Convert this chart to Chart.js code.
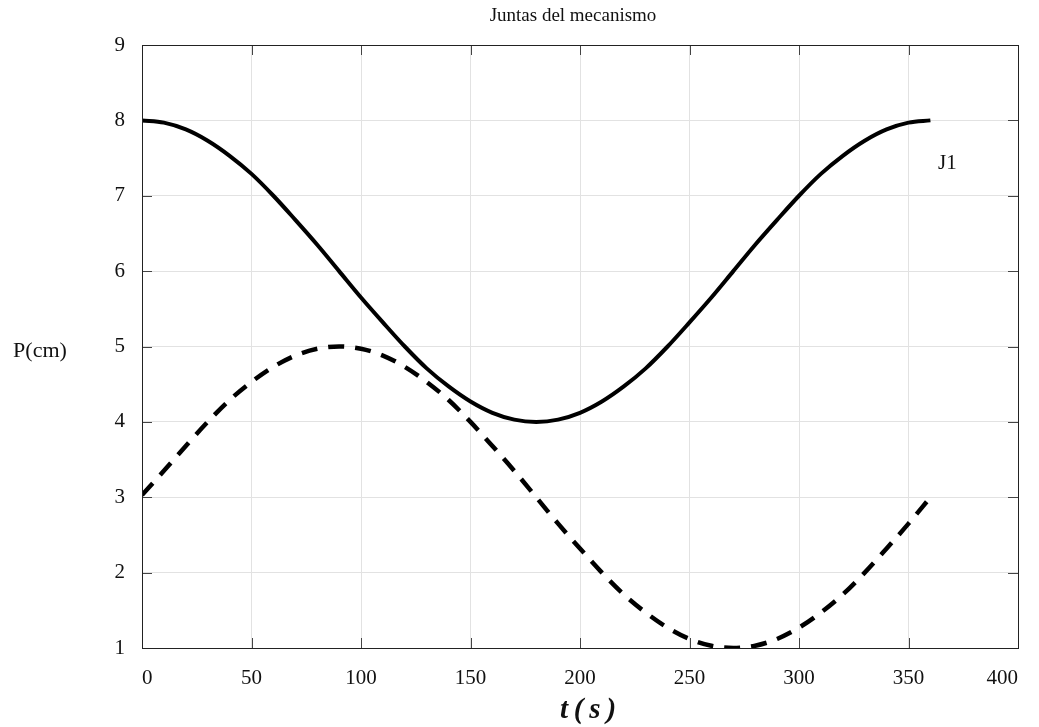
<!DOCTYPE html>
<html>
<head>
<meta charset="utf-8">
<script src="https://cdn.jsdelivr.net/npm/chart.js@4.4.0/dist/chart.umd.min.js"></script>
<style>
  body { margin: 0; background: #fff; }
</style>
</head>
<body>
<canvas id="line-chart" width="1039" height="727"></canvas>
<script>
// t en grados (eje x)
let tiempo = [0, 10, 20, 30, 40, 50, 60, 70, 80, 90, 100, 110, 120, 130, 140, 150, 160, 170, 180,
              190, 200, 210, 220, 230, 240, 250, 260, 270, 280, 290, 300, 310, 320, 330, 340, 350, 360]
// J1 - linea continua
let juntaJ1 = [8.00, 7.97, 7.88, 7.73, 7.53, 7.29, 7.00, 6.68, 6.35, 6.00, 5.65, 5.32, 5.00, 4.71, 4.47, 4.27, 4.12, 4.03, 4.00,
               4.03, 4.12, 4.27, 4.47, 4.71, 5.00, 5.32, 5.65, 6.00, 6.35, 6.68, 7.00, 7.29, 7.53, 7.73, 7.88, 7.97, 8.00]
// segunda junta - linea discontinua
let juntaJ2 = [3.03, 3.35, 3.68, 4.00, 4.29, 4.53, 4.73, 4.88, 4.97, 5.00, 4.97, 4.88, 4.73, 4.53, 4.29, 4.00, 3.68, 3.35, 3.00,
               2.65, 2.32, 2.00, 1.71, 1.47, 1.27, 1.12, 1.03, 1.00, 1.03, 1.12, 1.27, 1.47, 1.71, 2.00, 2.32, 2.65, 3.00]
let ticksX = [0, 50, 100, 150, 200, 250, 300, 350, 400]
let ticksY = [1, 2, 3, 4, 5, 6, 7, 8, 9]

const serif = "'Liberation Serif', 'Times New Roman', serif"
Chart.defaults.font.family = serif
Chart.defaults.color = '#111'

// marco, marcas interiores y textos
const marco = {
  id: 'marco',
  beforeDatasetsDraw(chart) {
    const ctx = chart.ctx
    const a = chart.chartArea
    const sx = chart.scales.x
    const sy = chart.scales.y
    ctx.save()
    ctx.strokeStyle = '#444'
    ctx.lineWidth = 1
    ctx.beginPath()
    for (let v of ticksX) {
      let px = Math.round(sx.getPixelForValue(v)) + 0.5
      ctx.moveTo(px, a.bottom); ctx.lineTo(px, a.bottom - 10)
      ctx.moveTo(px, a.top); ctx.lineTo(px, a.top + 10)
    }
    for (let v of ticksY) {
      let py = Math.round(sy.getPixelForValue(v)) + 0.5
      ctx.moveTo(a.left, py); ctx.lineTo(a.left + 10, py)
      ctx.moveTo(a.right, py); ctx.lineTo(a.right - 10, py)
    }
    ctx.stroke()
    ctx.restore()
  },
  afterDraw(chart) {
    const ctx = chart.ctx
    const a = chart.chartArea
    const sx = chart.scales.x
    const sy = chart.scales.y
    ctx.save()
    ctx.strokeStyle = '#222'
    ctx.lineWidth = 1
    ctx.strokeRect(Math.round(a.left) + 0.5, Math.round(a.top) + 0.5,
                   Math.round(a.right - a.left), Math.round(a.bottom - a.top))
    ctx.fillStyle = '#111'
    ctx.textBaseline = 'alphabetic'
    ctx.textAlign = 'center'
    ctx.font = '19px ' + serif
    ctx.fillText('Juntas del mecanismo', 573, 21)
    ctx.font = '22px ' + serif
    ctx.fillText('P(cm)', 40, 357)
    ctx.font = 'italic bold 29px ' + serif
    ctx.fillText('t\u2009(\u2009s\u2009)', (a.left + a.right) / 2 + 8, 718)
    ctx.textAlign = 'left'
    ctx.font = '21px ' + serif
    ctx.fillText('J1', sx.getPixelForValue(363.5), sy.getPixelForValue(7.45) + 7)
    ctx.restore()
  }
}

new Chart(document.getElementById('line-chart'), {
  type: 'line',
  data: {
    datasets: [
      {
        label: 'J1',
        data: tiempo.map((t, i) => ({ x: t, y: juntaJ1[i] })),
        borderColor: '#000',
        borderWidth: 4,
        pointRadius: 0,
        cubicInterpolationMode: 'monotone',
        fill: false
      },
      {
        label: 'J2',
        data: tiempo.map((t, i) => ({ x: t, y: juntaJ2[i] })),
        borderColor: '#000',
        borderWidth: 4.5,
        borderDash: [16, 11],
        borderCapStyle: 'butt',
        pointRadius: 0,
        cubicInterpolationMode: 'monotone',
        fill: false
      }
    ]
  },
  options: {
    responsive: false,
    animation: false,
    devicePixelRatio: 1,
    layout: { padding: { top: 45, right: 21, left: 0, bottom: 0 } },
    plugins: {
      legend: { display: false },
      title: { display: false },
      tooltip: { enabled: false }
    },
    scales: {
      x: {
        type: 'linear',
        min: ticksX[0],
        max: ticksX[ticksX.length - 1],
        afterBuildTicks: s => { s.ticks = ticksX.map(v => ({ value: v })) },
        afterFit: s => { s.height = 79 },
        grid: { color: '#e2e2e2', drawTicks: false },
        border: { display: false },
        ticks: { align: 'inner', padding: 18, font: { size: 21 }, color: '#111' }
      },
      y: {
        min: ticksY[0],
        max: ticksY[ticksY.length - 1],
        afterBuildTicks: s => { s.ticks = ticksY.map(v => ({ value: v })) },
        afterFit: s => { s.width = 142 },
        grid: { color: '#e2e2e2', drawTicks: false },
        border: { display: false },
        ticks: { padding: 17, font: { size: 21 }, color: '#111' }
      }
    }
  },
  plugins: [marco]
});
</script>
</body>
</html>
